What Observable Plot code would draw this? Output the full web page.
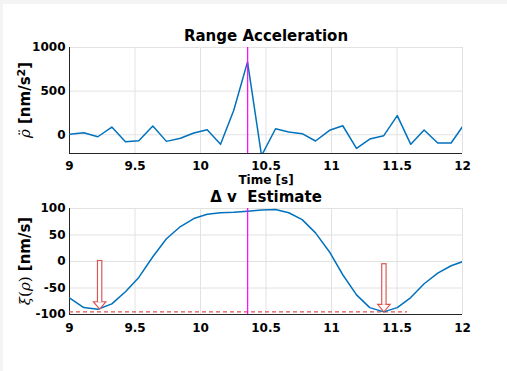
<!DOCTYPE html>
<html><head><meta charset="utf-8">
<script src="https://cdn.jsdelivr.net/npm/d3@7"></script>
<script src="https://cdn.jsdelivr.net/npm/@observablehq/plot@0.6"></script>
<style>
body{margin:0;background:#f4f4f4;}
#wrap{position:absolute;left:3px;top:4px;width:504px;height:367px;background:#fff;}
#chart{position:absolute;left:0;top:0;width:507px;height:371px;}
#chart svg{position:absolute;left:0;display:block;}
</style></head><body><div id="wrap"></div><div id="chart"></div>
<script>
// ---- data ----
const times = [9.002, 9.109, 9.216, 9.323, 9.427, 9.529, 9.636, 9.740, 9.847, 9.949,
  10.051, 10.153, 10.254, 10.359, 10.466, 10.573, 10.674, 10.776, 10.878, 10.985,
  11.086, 11.191, 11.292, 11.399, 11.502, 11.605, 11.707, 11.811, 11.913, 12.005];
const accel = [5, 23, -23, 88, -80, -69, 100, -76, -41, 20,
  57, -110, 280, 835, -240, 69, 31, 12, -72, 51,
  103, -156, -49, -11, 219, -110, 54, -95, -95, 103];
const deltaV = [-69, -87, -90, -80, -57, -30, 9, 43, 66, 81,
  89, 92, 93, 95, 97, 98, 92, 79, 54, 18,
  -25, -63, -87, -95, -87, -68, -42, -22, -8, 0];
const eventTime = [10.36];
const arrowTimes = [9.23, 11.40];
const arrowTops = [2, -4];
const arrowTips = [-90, -95];
const thresholdValue = [-95];
const thresholdEnd = [11.58];
const xTicks = [9, 9.5, 10, 10.5, 11, 11.5, 12];
const accelTicks = [0, 500, 1000];
const dvTicks = [-100, -50, 0, 50, 100];
const accelDomain = [-215, 1000];
const dvDomain = [-100, 100];

// ---- style ----
const font = "'DejaVu Sans', sans-serif";
const blue = "#0072BD", grid = "#e2e2e2", axisC = "#262626", magenta = "#ff00ff";
const arrowRed = "#d9534f", dashRed = "#e25050";
const baseStyle = {fontFamily: font, fontSize: "12px", fontWeight: "bold", color: "#000", background: "transparent", overflow: "visible"};
const fmt = d => String(d);

const accelData = times.map((t, i) => ({t, v: accel[i]}));
const dvData = times.map((t, i) => ({t, v: deltaV[i]}));
const arrows = arrowTimes.map((t, i) => ({t, top: arrowTops[i], tip: arrowTips[i]}));
const headSymbol = {draw(ctx) { ctx.moveTo(-6.3, -7.5); ctx.lineTo(6.3, -7.5); ctx.lineTo(0, 0); ctx.closePath(); }};

const topPlot = Plot.plot({
  width: 507, height: 180,
  marginLeft: 69, marginRight: 45, marginTop: 47, marginBottom: 27,
  style: baseStyle,
  x: {domain: [9, 12], label: null},
  y: {domain: accelDomain, label: null},
  marks: [
    Plot.gridX(xTicks, {stroke: grid, strokeOpacity: 1}),
    Plot.gridY(accelTicks, {stroke: grid, strokeOpacity: 1}),
    Plot.axisX({ticks: xTicks, tickSize: 0, tickPadding: 8, tickFormat: fmt, label: null}),
    Plot.axisY({ticks: accelTicks, tickSize: 0, tickPadding: 4, tickFormat: fmt, label: null}),
    Plot.ruleX([9], {stroke: axisC}),
    Plot.ruleY([accelDomain[0]], {stroke: axisC}),
    Plot.line(accelData, {x: "t", y: "v", stroke: blue, strokeWidth: 1.5, clip: true}),
    Plot.ruleX(eventTime, {stroke: magenta, strokeWidth: 1.2}),
    Plot.text(["Range Acceleration"], {frameAnchor: "top", lineAnchor: "middle", dy: -11, fontSize: 15, fontWeight: "bold"}),
    Plot.text(["Time [s]"], {frameAnchor: "bottom", lineAnchor: "middle", dy: 26.5, fontSize: 12, fontWeight: "bold"})
  ]
});

const botPlot = Plot.plot({
  width: 507, height: 191,
  marginLeft: 69, marginRight: 45, marginTop: 28, marginBottom: 57,
  style: baseStyle,
  x: {domain: [9, 12], label: null},
  y: {domain: dvDomain, label: null},
  marks: [
    Plot.gridX(xTicks, {stroke: grid, strokeOpacity: 1}),
    Plot.gridY(dvTicks, {stroke: grid, strokeOpacity: 1}),
    Plot.axisX({ticks: xTicks, tickSize: 0, tickPadding: 9, tickFormat: fmt, label: null}),
    Plot.axisY({ticks: dvTicks, tickSize: 0, tickPadding: 4, tickFormat: fmt, label: null}),
    Plot.ruleX([9], {stroke: axisC}),
    Plot.ruleY([dvDomain[0]], {stroke: axisC}),
    Plot.ruleY(thresholdValue, {x1: 9, x2: thresholdEnd[0], stroke: dashRed, strokeWidth: 1.2, strokeDasharray: "4,3"}),
    Plot.line(dvData, {x: "t", y: "v", stroke: blue, strokeWidth: 1.5, clip: true}),
    Plot.ruleX(eventTime, {stroke: magenta, strokeWidth: 1.2}),
    Plot.ruleX(arrows, {x: "t", y1: "top", y2: "tip", stroke: arrowRed, strokeWidth: 5.5, insetBottom: 6}),
    Plot.dot(arrows, {x: "t", y: "tip", symbol: headSymbol, r: 5, fill: "white", stroke: arrowRed, strokeWidth: 1.1}),
    Plot.ruleX(arrows, {x: "t", y1: "top", y2: "tip", stroke: "white", strokeWidth: 3.2, insetTop: 1.2, insetBottom: 6.6}),
    Plot.text(["Δ v  Estimate"], {frameAnchor: "top", lineAnchor: "middle", dy: -11.5, fontSize: 15, fontWeight: "bold"})
  ]
});

topPlot.style.top = "0px";
botPlot.style.top = "180px";
document.getElementById("chart").append(topPlot, botPlot);

// rotated y-axis labels with mixed TeX-like styling
function yLabel(svg, cx, cy, parts) {
  const t = d3.select(svg).append("text")
    .attr("transform", `translate(${cx},${cy}) rotate(-90)`)
    .attr("text-anchor", "middle")
    .attr("dy", "0.35em")
    .attr("font-size", 15)
    .attr("font-weight", "bold")
    .attr("fill", "#000")
    .style("white-space", "pre");
  for (const p of parts) {
    const s = t.append("tspan").text(p.s);
    if (p.serif) s.attr("font-family", "'DejaVu Serif', serif").attr("font-weight", "normal");
    if (p.italic) s.attr("font-style", "italic");
    if (p.size) s.attr("font-size", p.size);
    if (p.dy) s.attr("dy", p.dy);
  }
}
yLabel(topPlot, 25, 100, [
  {s: "ρ̈", serif: true, italic: true},
  {s: " [nm/s"},
  {s: "2", size: 11, dy: "-0.5em"},
  {s: "]", dy: "0.35em"}
]);
yLabel(botPlot, 25, 81, [
  {s: "ξ", serif: true, italic: true},
  {s: "(", serif: true},
  {s: "ρ", serif: true, italic: true},
  {s: ")", serif: true},
  {s: " [nm/s]"}
]);
</script></body></html>
